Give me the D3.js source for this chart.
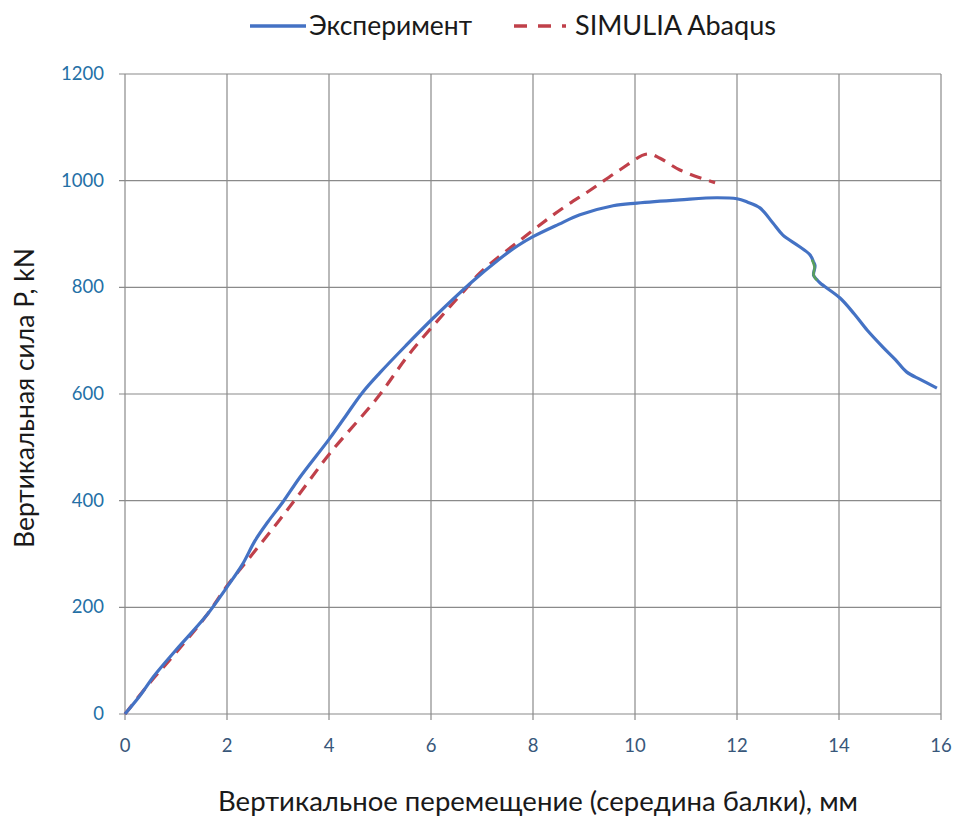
<!DOCTYPE html>
<html><head><meta charset="utf-8">
<script src="https://cdn.jsdelivr.net/npm/d3@7"></script>
<style>
body{margin:0;background:#fff;}
svg{display:block;font-family:Lato,"Open Sans",sans-serif;}
</style></head><body>
<svg id="c" width="961" height="821"></svg>
<script>
// Data
const xTicks = [0,2,4,6,8,10,12,14,16];
const yTicks = [0,200,400,600,800,1000,1200];
const seriesNames = ["Эксперимент","SIMULIA Abaqus"];
const expX = [0,0.3,0.55,1,1.6,2,2.3,2.55,2.8,3.1,3.43,4,4.3,4.65,5,5.5,6.04,6.8,7.3,7.7,8,8.5,8.92,9.57,10.04,10.88,11.6,12.0,12.2,12.45,12.7,12.9,13.2,13.43,13.5];
const expY = [0,35,69,120,185,238,280,325,360,398,444,515,555,602,640,690,742,810,850,878,895,918,936,953,958,964,968,966,960,949,921,898,878,861,848];
const expTailX = [13.5,13.53,13.5,13.56,13.63,14.02,14.3,14.55,14.86,15.1,15.33,15.6,15.92];
const expTailY = [848,840,823,815,808,780,750,720,688,665,641,627,611];
const greenX = [13.47,13.52,13.5,13.57];
const greenY = [852,838,823,813];
const simX = [0,0.5,1,1.6,2,2.5,3,3.43,4.02,4.94,5.59,6.31,6.7,6.96,8.0,8.59,9.12,9.7,10.24,10.49,10.88,11.57];
const simY = [0,60,115,185,240,300,360,414,489,592,677,757,799,827,907,949,982,1020,1050,1042,1020,996];

const svg = d3.select("#c");
const L=125,R=941,T=74,B=714;
const x = d3.scaleLinear().domain([0,16]).range([L,R]);
const y = d3.scaleLinear().domain([0,1200]).range([B,T]);
const grid="#8a8a8a";

// grid
svg.append("g").selectAll("line").data(xTicks).join("line")
  .attr("x1",d=>x(d)).attr("x2",d=>x(d)).attr("y1",T).attr("y2",B+6)
  .attr("stroke",grid).attr("stroke-width",1.2);
svg.append("g").selectAll("line").data(yTicks).join("line")
  .attr("x1",L-6).attr("x2",R).attr("y1",d=>y(d)).attr("y2",d=>y(d))
  .attr("stroke",grid).attr("stroke-width",1.2);

// tick labels
svg.append("g").selectAll("text").data(yTicks).join("text")
  .attr("x",L-21).attr("y",d=>y(d)+6).attr("text-anchor","end")
  .attr("font-size",18.5).attr("fill","#2470a6").text(d=>d);
svg.append("g").selectAll("text").data(xTicks).join("text")
  .attr("x",d=>x(d)).attr("y",B+38).attr("text-anchor","middle")
  .attr("font-size",18.5).attr("fill","#38577a").text(d=>d);

// titles
svg.append("text").attr("x",538).attr("y",811).attr("text-anchor","middle")
  .attr("font-size",26).attr("fill","#1a1a1a")
  .attr("textLength",640).attr("lengthAdjust","spacingAndGlyphs")
  .text("Вертикальное перемещение (середина балки), мм");
svg.append("text").attr("transform","translate(34,398) rotate(-90)").attr("text-anchor","middle")
  .attr("font-size",26).attr("fill","#1a1a1a")
  .attr("textLength",300).attr("lengthAdjust","spacingAndGlyphs")
  .text("Вертикальная сила P, kN");

const line = d3.line().x(d=>x(d[0])).y(d=>y(d[1])).curve(d3.curveCatmullRom.alpha(0.5));
const zip=(a,b)=>a.map((v,i)=>[v,b[i]]);

svg.append("path").datum(zip(simX,simY)).attr("d",line).attr("fill","none")
  .attr("stroke","#c0404a").attr("stroke-width",3.2).attr("stroke-dasharray","12,8");
svg.append("path").datum(zip(expX,expY)).attr("d",line).attr("fill","none")
  .attr("stroke","#4472c4").attr("stroke-width",3.2).attr("stroke-linejoin","round");
svg.append("path").datum(zip(expTailX,expTailY)).attr("d",line).attr("fill","none")
  .attr("stroke","#4472c4").attr("stroke-width",3.2).attr("stroke-linejoin","round");
svg.append("path").datum(zip(greenX,greenY)).attr("d",line).attr("fill","none")
  .attr("stroke","#5aa05a").attr("stroke-width",2.5);

// legend
const lg = svg.append("g");
lg.append("line").attr("x1",250).attr("x2",306).attr("y1",26).attr("y2",26)
  .attr("stroke","#4472c4").attr("stroke-width",3.5);
lg.append("text").attr("x",309).attr("y",35).attr("font-size",26).attr("fill","#1a1a1a")
  .attr("textLength",163).attr("lengthAdjust","spacingAndGlyphs").text(seriesNames[0]);
lg.append("line").attr("x1",514).attr("x2",566).attr("y1",26).attr("y2",26)
  .attr("stroke","#c0404a").attr("stroke-width",3.5).attr("stroke-dasharray","13,11");
lg.append("text").attr("x",575).attr("y",35).attr("font-size",26).attr("fill","#1a1a1a")
  .attr("textLength",201).attr("lengthAdjust","spacingAndGlyphs").text(seriesNames[1]);
</script>
</body></html>
